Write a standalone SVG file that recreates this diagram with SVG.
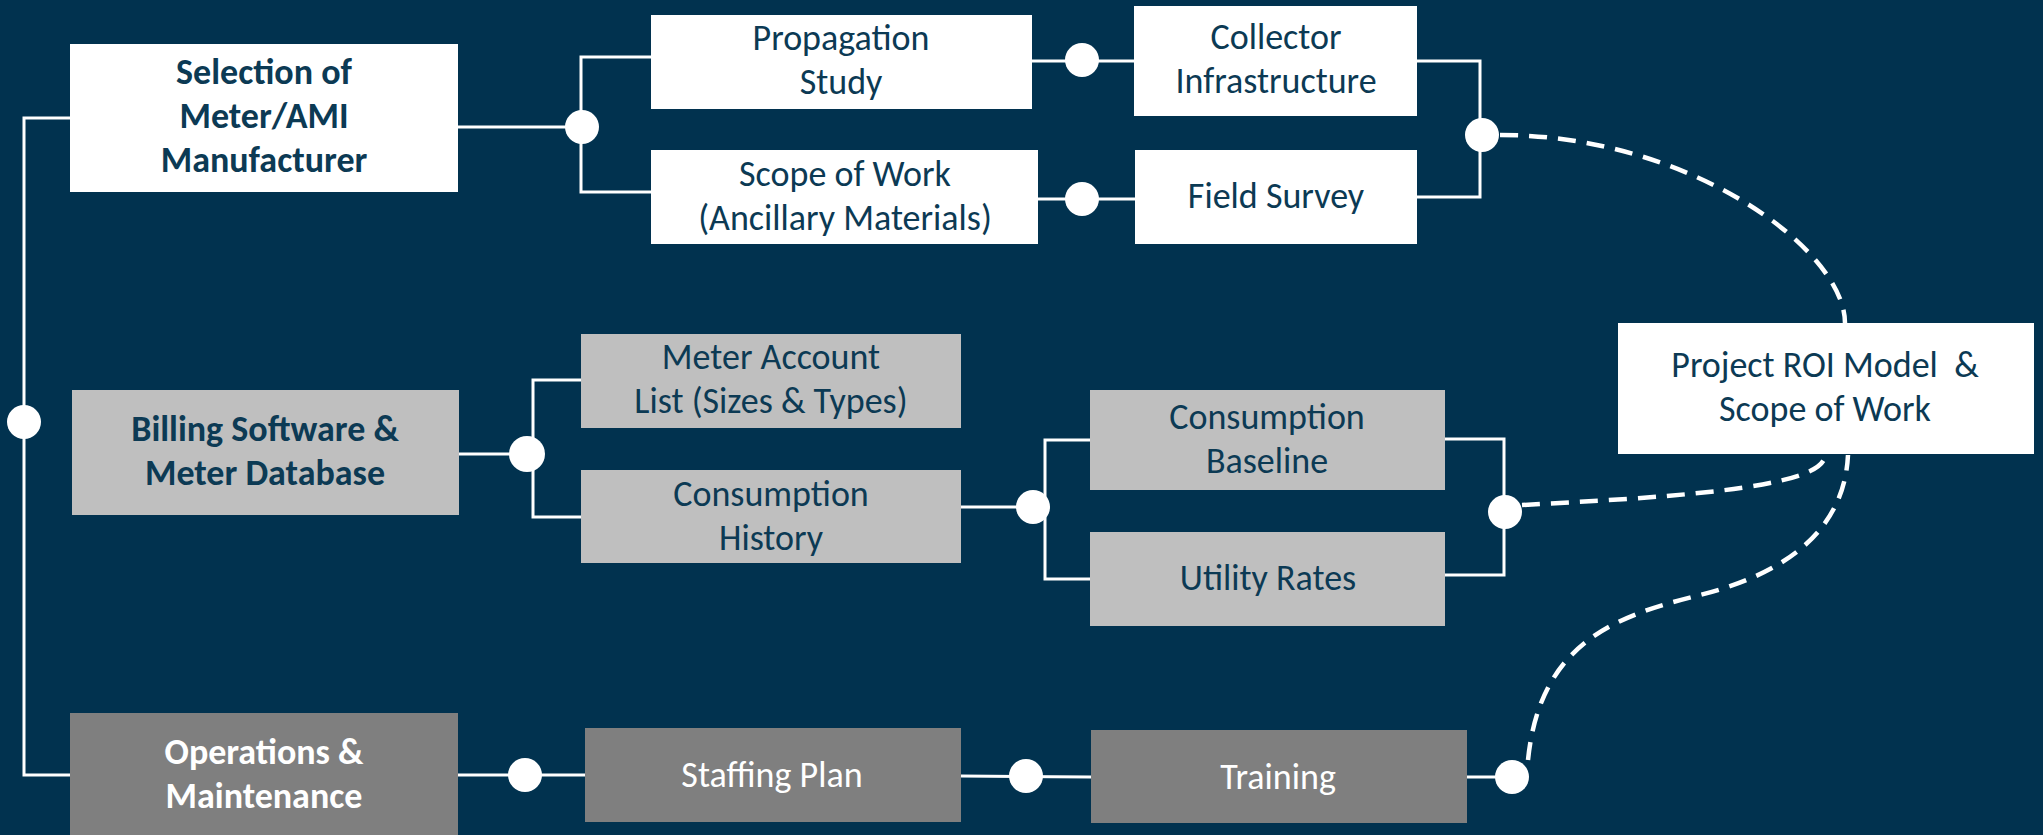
<svg xmlns="http://www.w3.org/2000/svg" width="2043" height="835" viewBox="0 0 2043 835">
<style>
.t{font-family:Carlito,Lato,"Liberation Sans",sans-serif;font-size:36px;text-anchor:middle;fill:#0c3a54}
.b{font-weight:bold}
.w{fill:#ffffff}
.wb{fill:#ffffff}
.lg{fill:#bfbfbf}
.dg{fill:#7f7f7f}
.ln{fill:none;stroke:#ffffff;stroke-width:3}
.ds{fill:none;stroke:#ffffff;stroke-width:4.5;stroke-dasharray:18 11}
.dot{fill:#ffffff}
</style>
<rect width="2043" height="835" fill="#01324f"/>
<g id="connectors">
<polyline class="ln" points="70,118 24,118 24,775 70,775"/>
<line class="ln" x1="458" y1="127" x2="582" y2="127"/>
<polyline class="ln" points="651,57 581,57 581,192 651,192"/>
<line class="ln" x1="1032" y1="61" x2="1134" y2="61"/>
<line class="ln" x1="1038" y1="199" x2="1135" y2="199"/>
<polyline class="ln" points="1417,61 1480,61 1480,197 1417,197"/>
<line class="ln" x1="459" y1="454" x2="527" y2="454"/>
<polyline class="ln" points="581,380 533,380 533,517 581,517"/>
<line class="ln" x1="961" y1="507" x2="1033" y2="507"/>
<polyline class="ln" points="1090,440 1045,440 1045,579 1090,579"/>
<polyline class="ln" points="1445,439 1504,439 1504,575 1438,575"/>
<line class="ln" x1="458" y1="775" x2="585" y2="775"/>
<line class="ln" x1="961" y1="776" x2="1091" y2="777"/>
<line class="ln" x1="1467" y1="777" x2="1512" y2="777"/>
<path class="ds" d="M1500,135 C1690,135 1845,250 1845,323"/>
<path class="ds" d="M1522,505 C1650,498 1825,490 1825,455"/>
<path class="ds" d="M1528,760 C1540,640 1620,615 1700,595 C1800,570 1845,520 1848,455"/>
<circle class="dot" cx="24" cy="422" r="17"/>
<circle class="dot" cx="582" cy="127" r="17"/>
<circle class="dot" cx="1082" cy="60" r="17"/>
<circle class="dot" cx="1082" cy="199" r="17"/>
<circle class="dot" cx="1482" cy="135" r="17"/>
<circle class="dot" cx="527" cy="454" r="18"/>
<circle class="dot" cx="1033" cy="507" r="17"/>
<circle class="dot" cx="1505" cy="512" r="17"/>
<circle class="dot" cx="525" cy="775" r="17"/>
<circle class="dot" cx="1026" cy="776" r="17"/>
<circle class="dot" cx="1512" cy="777" r="17"/>
</g>
<g id="selection">
<rect class="w" x="70" y="44" width="388" height="148"/>
<text class="t b" x="264" y="84">Selection of</text>
<text class="t b" x="264" y="128">Meter/AMI</text>
<text class="t b" x="264" y="172">Manufacturer</text>
</g>
<g id="propagation">
<rect class="w" x="651" y="15" width="381" height="94"/>
<text class="t" x="841" y="50">Propagation</text>
<text class="t" x="841" y="94">Study</text>
</g>
<g id="collector">
<rect class="w" x="1134" y="6" width="283" height="110"/>
<text class="t" x="1276" y="49">Collector</text>
<text class="t" x="1276" y="93">Infrastructure</text>
</g>
<g id="scope">
<rect class="w" x="651" y="150" width="387" height="94"/>
<text class="t" x="845" y="186">Scope of Work</text>
<text class="t" x="845" y="230">(Ancillary Materials)</text>
</g>
<g id="fieldsurvey">
<rect class="w" x="1135" y="150" width="282" height="94"/>
<text class="t" x="1276" y="208">Field Survey</text>
</g>
<g id="roi">
<rect class="w" x="1618" y="323" width="416" height="131"/>
<text class="t" x="1825" y="377" xml:space="preserve">Project ROI Model  &amp;</text>
<text class="t" x="1825" y="421">Scope of Work</text>
</g>
<g id="billing">
<rect class="lg" x="72" y="390" width="387" height="125"/>
<text class="t b" x="265" y="441">Billing Software &amp;</text>
<text class="t b" x="265" y="485">Meter Database</text>
</g>
<g id="meteraccount">
<rect class="lg" x="581" y="334" width="380" height="94"/>
<text class="t" x="771" y="369">Meter Account</text>
<text class="t" x="771" y="413">List (Sizes &amp; Types)</text>
</g>
<g id="consumptionhistory">
<rect class="lg" x="581" y="470" width="380" height="93"/>
<text class="t" x="771" y="506">Consumption</text>
<text class="t" x="771" y="550">History</text>
</g>
<g id="baseline">
<rect class="lg" x="1090" y="390" width="355" height="100"/>
<text class="t" x="1267" y="429">Consumption</text>
<text class="t" x="1267" y="473">Baseline</text>
</g>
<g id="utility">
<rect class="lg" x="1090" y="532" width="355" height="94"/>
<text class="t" x="1268" y="590">Utility Rates</text>
</g>
<g id="operations">
<rect class="dg" x="70" y="713" width="388" height="130"/>
<text class="t b wb" x="264" y="764">Operations &amp;</text>
<text class="t b wb" x="264" y="808">Maintenance</text>
</g>
<g id="staffing">
<rect class="dg" x="585" y="728" width="376" height="94"/>
<text class="t wb" x="772" y="787">Staffing Plan</text>
</g>
<g id="training">
<rect class="dg" x="1091" y="730" width="376" height="93"/>
<text class="t wb" x="1278" y="789">Training</text>
</g>
</svg>
